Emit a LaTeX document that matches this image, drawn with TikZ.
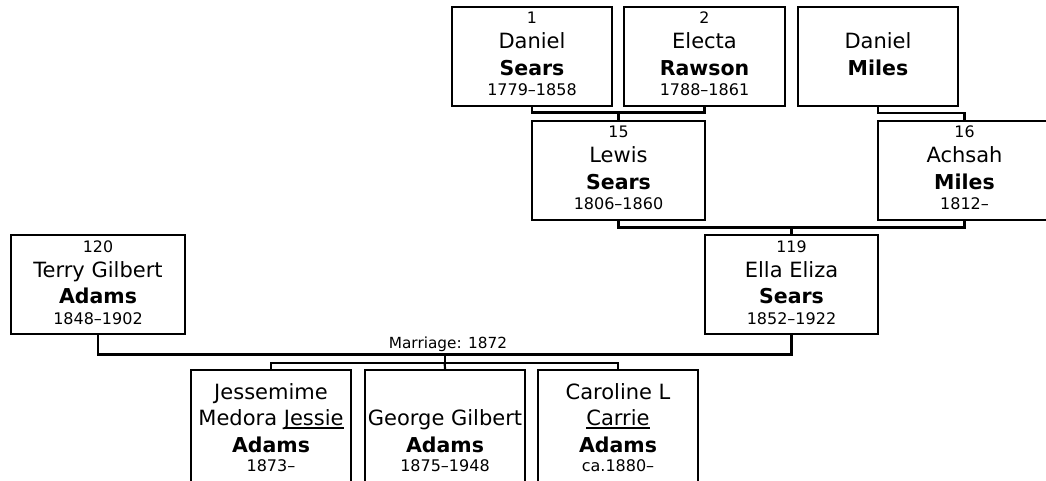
\documentclass[tikz,border=0pt]{standalone}
\usepackage{fontspec}
\setmainfont{DejaVu Sans}
\newcommand\ulin[1]{\setbox0\hbox{#1}\rlap{\rule[-3.5pt]{\wd0}{1.5pt}}\box0}
\tikzset{
 pbox/.style={draw=black, line width=2.2pt, rectangle, inner sep=0pt, outer sep=0pt, fill=white},
 txt/.style={inner sep=0pt, anchor=base, text=black},
 numt/.style={txt, font=\fontsize{15.8}{18}\selectfont},
 givent/.style={txt, font=\fontsize{21}{25}\selectfont},
 surt/.style={txt, font=\fontsize{20.5}{25}\selectfont\bfseries},
 datet/.style={txt, font=\fontsize{16}{19}\selectfont},
 mart/.style={txt, font=\fontsize{15.3}{17}\selectfont},
 conn/.style={draw=black, line width=2.2pt},
}
\begin{document}
\begin{tikzpicture}[x=1pt,y=-1pt]
\clip (0,0) rectangle (1046,481);
\fill[white] (0,0) rectangle (1046,481);
% boxes
\node[pbox, minimum width=160pt, minimum height=99pt] (p1) at (532,56.5) {};
\node[pbox, minimum width=161pt, minimum height=99pt] (p2) at (704.5,56.5) {};
\node[pbox, minimum width=160pt, minimum height=99pt] (p3) at (878,56.5) {};
\node[pbox, minimum width=173pt, minimum height=99pt] (p15) at (618.5,170.5) {};
\node[pbox, minimum width=173pt, minimum height=99pt] (p16) at (964.5,170.5) {};
\node[pbox, minimum width=173pt, minimum height=99pt] (p119) at (791.5,284.5) {};
\node[pbox, minimum width=174pt, minimum height=99pt] (p120) at (98,284.5) {};
\node[pbox, minimum width=160pt, minimum height=140pt] (c1) at (271,440) {};
\node[pbox, minimum width=160pt, minimum height=140pt] (c2) at (445,440) {};
\node[pbox, minimum width=160pt, minimum height=140pt] (c3) at (618,440) {};
% texts
\node[numt] (p1n) at ([yshift=-17pt]p1.north) {1};
\node[givent] (p1g) at ([yshift=-42pt]p1.north) {Daniel};
\node[surt] (p1s) at ([yshift=-68.5pt]p1.north) {Sears};
\node[datet] (p1d) at ([yshift=-89pt]p1.north) {1779\textendash1858};
\node[numt] (p2n) at ([yshift=-17pt]p2.north) {2};
\node[givent] (p2g) at ([yshift=-42pt]p2.north) {Electa};
\node[surt] (p2s) at ([yshift=-68.5pt]p2.north) {Rawson};
\node[datet] (p2d) at ([yshift=-89pt]p2.north) {1788\textendash1861};
\node[givent] (p3g) at ([yshift=-42pt]p3.north) {Daniel};
\node[surt] (p3s) at ([yshift=-68.5pt]p3.north) {Miles};
\node[numt] (p15n) at ([yshift=-17pt]p15.north) {15};
\node[givent] (p15g) at ([yshift=-42pt]p15.north) {Lewis};
\node[surt] (p15s) at ([yshift=-68.5pt]p15.north) {Sears};
\node[datet] (p15d) at ([yshift=-89pt]p15.north) {1806\textendash1860};
\node[numt] (p16n) at ([yshift=-17pt]p16.north) {16};
\node[givent] (p16g) at ([yshift=-42pt]p16.north) {Achsah};
\node[surt] (p16s) at ([yshift=-68.5pt]p16.north) {Miles};
\node[datet] (p16d) at ([yshift=-89pt]p16.north) {1812\textendash};
\node[numt] (p119n) at ([yshift=-17pt]p119.north) {119};
\node[givent] (p119g) at ([yshift=-42pt]p119.north) {Ella Eliza};
\node[surt] (p119s) at ([yshift=-68.5pt]p119.north) {Sears};
\node[datet] (p119d) at ([yshift=-89pt]p119.north) {1852\textendash1922};
\node[numt] (p120n) at ([yshift=-17pt]p120.north) {120};
\node[givent] (p120g) at ([yshift=-42pt]p120.north) {Terry Gilbert};
\node[surt] (p120s) at ([yshift=-68.5pt]p120.north) {Adams};
\node[datet] (p120d) at ([yshift=-89pt]p120.north) {1848\textendash1902};
\node[givent] (c1a) at ([yshift=-29pt]c1.north) {Jessemime};
\node[givent] (c1b) at ([yshift=-55pt]c1.north) {Medora \ulin{Jessie}};
\node[surt] (c1s) at ([yshift=-82pt]c1.north) {Adams};
\node[datet] (c1d) at ([yshift=-101pt]c1.north) {1873\textendash};
\node[givent] (c2b) at ([yshift=-55pt]c2.north) {George Gilbert};
\node[surt] (c2s) at ([yshift=-82pt]c2.north) {Adams};
\node[datet] (c2d) at ([yshift=-101pt]c2.north) {1875\textendash1948};
\node[givent] (c3a) at ([yshift=-29pt]c3.north) {Caroline L};
\node[givent] (c3b) at ([yshift=-55pt]c3.north) {\ulin{Carrie}};
\node[surt] (c3s) at ([yshift=-82pt]c3.north) {Adams};
\node[datet] (c3d) at ([yshift=-101pt]c3.north) {ca.1880\textendash};
% connectors
\coordinate (j12) at (618.5,112.5);
\draw[conn] (p1.south) |- (j12) -| (p2.south);
\draw[conn] (j12) -- (p15.north);
\coordinate (jm) at (964.5,113);
\draw[conn] (p3.south) |- (jm) -- (p16.north);
\coordinate (j1516) at (791.5,227.5);
\draw[conn] (p15.south) |- (j1516) -| (p16.south);
\draw[conn] (j1516) -- (p119.north);
\coordinate (jmar) at (444.75,354.5);
\draw[conn] (p120.south) |- (jmar) -| (p119.south);
\node[mart] (mar) at (448,348) {Marriage: 1872};
\coordinate (jkids) at (444.75,363);
\draw[conn] (jmar) -- (jkids);
\draw[conn] (c1.north) |- (jkids) -| (c3.north);
\draw[conn] (jkids) -- (c2.north);
\end{tikzpicture}
\end{document}
